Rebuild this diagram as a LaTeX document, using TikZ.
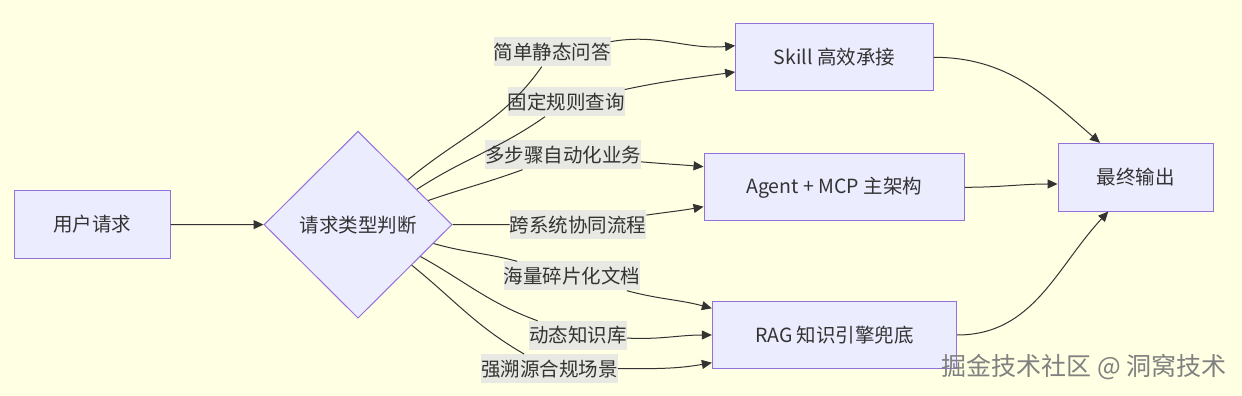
\documentclass[tikz,border=0pt]{standalone}
\usepackage{fontspec}
\setmainfont{Noto Sans CJK SC}
\usepackage{xcolor}
\definecolor{paper}{HTML}{FFFFE3}
\definecolor{boxfill}{HTML}{ECECFF}
\definecolor{boxline}{HTML}{9370DB}
\definecolor{ink}{HTML}{333333}
\definecolor{lblfill}{HTML}{E9E9E4}
\definecolor{wmgray}{HTML}{808080}
\usetikzlibrary{arrows.meta,shapes.geometric}

\begin{document}
\begin{tikzpicture}[x=1pt, y=1pt,
	font=\fontsize{19.5pt}{24pt}\selectfont, text=ink,
	box/.style={draw=boxline, fill=boxfill, line width=1pt, minimum height=67.3pt, inner sep=0pt},
	decide/.style={diamond, draw=boxline, fill=boxfill, line width=1pt, minimum width=188pt, minimum height=187pt, inner sep=0pt},
	lbl/.style={fill=lblfill, inner xsep=0pt, inner ysep=0pt, minimum height=29pt},
	flow/.style={draw=ink, line width=1pt, -{Triangle[length=10pt,width=9pt]}}]
	% Page
	\fill[paper] (0,0) rectangle (1242,396);
	\useasboundingbox (0,0) rectangle (1242,396);

	% Nodes
	\node[box, minimum width=156pt] (req) at (92,171.5) {用户请求};
	\node[decide] (judge) at (358,171.3) {请求类型判断};
	\node[box, minimum width=197.7pt] (skill) at (834.5,338.7) {Skill 高效承接};
	\node[box, minimum width=260.3pt] (agent) at (834.2,208.7) {Agent + MCP 主架构};
	\node[box, minimum width=244.3pt] (rag) at (834.5,61) {RAG 知识引擎兜底};
	\node[box, minimum width=155.3pt, minimum height=67.7pt] (final) at (1135.7,218.8) {最终输出};

	% Edge labels
	\node[lbl] (l1) at (552,344) {简单静态问答};
	\node[lbl] (l2) at (566,294) {固定规则查询};
	\node[lbl] (l3) at (563,241) {多步骤自动化业务};
	\node[lbl] (l4) at (578,171.3) {跨系统协同流程};
	\node[lbl] (l5) at (572,120) {海量碎片化文档};
	\node[lbl] (l6) at (578,60.5) {动态知识库};
	\node[lbl] (l7) at (549.5,27.3) {强溯源合规场景};

	% Request into the decision
	\draw[flow] (req) -- (judge);

	% Branches, each through its label
	\draw[flow] (judge.42) to[out=40,in=235] (l1) to[out=10,in=185] ([yshift=11.6pt]skill.west);
	\draw[flow] (judge.31) to[out=33,in=215] (l2) to[out=12,in=188] ([yshift=-14.7pt]skill.west);
	\draw[flow] (judge.19) to[out=19,in=200] (l3) to[out=-5,in=175] ([yshift=20.6pt]agent.west);
	\draw[flow] (judge.east) -- (l4) to[out=8,in=190] ([yshift=-19.4pt]agent.west);
	\draw[flow] (judge.-14) to[out=-16,in=165] (l5) to[out=-15,in=165] ([yshift=26.7pt]rag.west);
	\draw[flow] (judge.-27) to[out=-29,in=160] (l6) to[out=-3,in=180] (rag.west);
	\draw[flow] (judge.-37) to[out=-39,in=150] (l7) to[out=0,in=190] ([yshift=-27.7pt]rag.west);

	% Into the final output
	\draw[flow] (skill.east) to[out=0,in=139] ([xshift=-35.7pt]final.north);
	\draw[flow] (agent.east) to[out=0,in=180] ([yshift=-6.8pt]final.west);
	\draw[flow] (rag.east) to[out=0,in=227] ([xshift=-27.4pt]final.south);

	% Watermark
	\node[text=wmgray, anchor=east, inner sep=0pt, font=\fontsize{25pt}{29pt}\selectfont] (wmark) at (1227,28.5) {掘金技术社区 @ 洞窝技术};
\end{tikzpicture}
\end{document}
